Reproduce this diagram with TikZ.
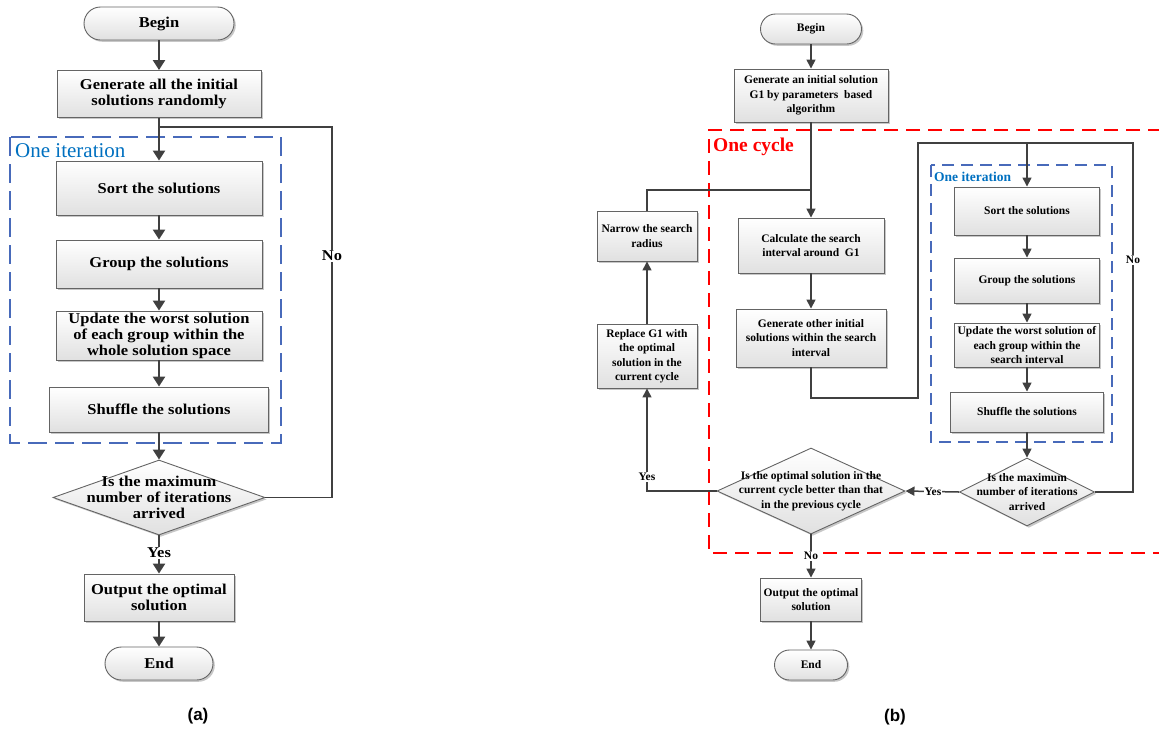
\documentclass[tikz,border=0pt]{standalone}
\usepackage{fontspec}
\setmainfont{Liberation Serif}
\newfontfamily\afont[FakeStretch=1.1]{Liberation Serif}
\newfontfamily\labfont{Liberation Sans}
\usetikzlibrary{arrows.meta,shapes.geometric,shadows}
\definecolor{boxgray}{RGB}{100,100,100}
\definecolor{arrgray}{RGB}{64,64,64}
\definecolor{dblue}{RGB}{72,106,186}
\definecolor{tblue}{RGB}{0,112,192}
\definecolor{cred}{RGB}{255,0,0}
\tikzset{
  boxfill/.style={top color=white, bottom color=black!12},
  boxshadow/.style={drop shadow={shadow xshift=1.8pt, shadow yshift=-1.8pt, opacity=0.22, fill=black}},
  fonta/.style={font=\afont\bfseries\fontsize{15}{16}\selectfont},
  fontb/.style={font=\bfseries\fontsize{11.5}{14.5}\selectfont},
  procbox/.style={draw=boxgray, line width=0.9pt, boxfill, boxshadow, inner sep=0pt, align=center},
  termbox/.style={procbox},
  decbox/.style={shape=diamond, draw=boxgray, line width=0.9pt, boxfill, boxshadow, inner sep=0pt},
  dtext/.style={align=center, inner sep=0pt},
  arra/.style={draw=arrgray, line width=2.4pt, -{Triangle[width=12pt,length=10pt]}},
  linea/.style={draw=arrgray, line width=1.8pt},
  arrb/.style={draw=arrgray, line width=1.5pt, -{Triangle[width=9pt,length=9pt]}},
  lineb/.style={draw=arrgray, line width=1.4pt},
  lbl/.style={fill=white, inner sep=1pt},
  bluedash/.style={draw=dblue, line width=2.8pt, dash pattern=on 19pt off 8pt},
  bluedashb/.style={draw=dblue, line width=2pt, dash pattern=on 12pt off 7pt},
  reddash/.style={draw=cred, line width=2.6pt, dash pattern=on 14pt off 8pt},
}
\begin{document}
\begin{tikzpicture}[x=1pt,y=-1pt]
\useasboundingbox (0,0) rectangle (1159,729);
% ---------------- (a) ----------------
\draw[bluedash] (10,137) rectangle (281,443);
\node[anchor=west, text=tblue, font=\fontsize{21}{22}\selectfont, inner sep=0pt] (itA) at (15,151) {One iteration};

\node[termbox, fonta, minimum width=150pt, minimum height=33pt, rounded corners=16.5pt] (beginA) at (159,23.5) {Begin};
\node[procbox, fonta, minimum width=204pt, minimum height=47pt] (genA) at (159,94) {Generate all the initial\\solutions randomly};
\node[procbox, fonta, minimum width=206pt, minimum height=54pt] (sortA) at (159,188) {Sort the solutions};
\node[procbox, fonta, minimum width=206pt, minimum height=48pt] (groupA) at (159,264) {Group the solutions};
\node[procbox, fonta, minimum width=206pt, minimum height=49pt] (updA) at (159,335.5) {Update the worst solution\\of each group within the\\whole solution space};
\node[procbox, fonta, minimum width=219pt, minimum height=45pt] (shufA) at (159,409.5) {Shuffle the solutions};
\node[decbox, minimum width=212pt, minimum height=75pt] (decA) at (159,497.5) {};
\node[dtext, fonta] (decAt) at (decA.center) {Is the maximum\\number of iterations\\arrived};
\node[procbox, fonta, minimum width=150pt, minimum height=47pt] (outA) at (159,597.5) {Output the optimal\\solution};
\node[termbox, fonta, minimum width=108pt, minimum height=33pt, rounded corners=16.5pt] (endA) at (159,663.5) {End};

\coordinate (loopA) at (332,127);
\draw[linea] (decA.east) -- (decA.east -| loopA) -- (loopA) -- (loopA -| genA.south);
\node[lbl, fonta] (noA) at (332,256) {No};
\draw[arra] (beginA) -- (genA);
\draw[arra] (genA) -- (sortA);
\draw[arra] (sortA) -- (groupA);
\draw[arra] (groupA) -- (updA);
\draw[arra] (updA) -- (shufA);
\draw[arra] (shufA) -- (decA);
\draw[arra] (decA) -- (outA);
\node[lbl, fonta] (yesA) at (159,553) {Yes};
\draw[arra] (outA) -- (endA);
\node[font=\labfont\bfseries\fontsize{17}{18}\selectfont] (capA) at (198,716) {(a)};

% ---------------- (b) ----------------
\draw[reddash] (1162,130) -- (709,130) -- (709,553) -- (1162,553);
\node[anchor=west, text=cred, font=\bfseries\fontsize{19.5}{20}\selectfont, inner sep=0pt] (cycB) at (713,147) {One cycle};
\draw[bluedashb] (931,165) rectangle (1112,442);
\node[anchor=west, text=tblue, font=\bfseries\fontsize{13.5}{14}\selectfont, inner sep=0pt] (itB) at (934,177) {One iteration};

\node[termbox, fontb, minimum width=101pt, minimum height=30pt, rounded corners=15pt] (beginB) at (811,29) {Begin};
\node[procbox, fontb, minimum width=154pt, minimum height=53pt] (genB) at (811,95.5) {Generate an initial solution\\G1 by parameters\ \ based\\algorithm};
\node[procbox, fontb, minimum width=146pt, minimum height=55pt] (calcB) at (811,245.5) {Calculate the search\\interval around\ \ G1};
\node[procbox, fontb, minimum width=150pt, minimum height=58pt] (othB) at (811,338) {Generate other initial\\solutions within the search\\interval};
\node[procbox, fontb, minimum width=100pt, minimum height=50pt] (narB) at (647,236) {Narrow the search\\radius};
\node[procbox, fontb, minimum width=100pt, minimum height=64pt] (replB) at (647,356) {Replace G1 with\\the optimal\\solution in the\\current cycle};
\node[procbox, fontb, minimum width=145pt, minimum height=48pt] (sortB) at (1027,211) {Sort the solutions};
\node[procbox, fontb, minimum width=145pt, minimum height=45pt] (grpB) at (1027,280.5) {Group the solutions};
\node[procbox, fontb, minimum width=145pt, minimum height=44pt] (updB) at (1027,345) {Update the worst solution of\\each group within the\\search interval};
\node[procbox, fontb, minimum width=153pt, minimum height=40pt] (shufB) at (1027,412) {Shuffle the solutions};
\node[decbox, minimum width=135pt, minimum height=68pt] (dec2B) at (1027,492) {};
\node[dtext, fontb] (dec2Bt) at (dec2B.center) {Is the maximum\\number of iterations\\arrived};
\node[decbox, minimum width=188pt, minimum height=86pt] (dec1B) at (811,491) {};
\node[dtext, fontb] (dec1Bt) at (dec1B.center) {Is the optimal solution in the\\current cycle better than that\\in the previous cycle};
\node[procbox, fontb, minimum width=101pt, minimum height=43pt] (outB) at (811,599.5) {Output the optimal\\solution};
\node[termbox, fontb, minimum width=73pt, minimum height=30pt, rounded corners=15pt] (endB) at (811,665) {End};

\coordinate (jB) at (811,190);
\coordinate (c1) at (918,398);
\coordinate (c2) at (918,143);
\coordinate (c3) at (1133,143);

\draw[arrb] (beginB) -- (genB);
\draw[arrb] (genB) -- (calcB);
\draw[lineb] (narB.north) |- (jB);
\draw[arrb] (calcB) -- (othB);
\draw[arrb] (othB.south) |- (c1) -- (c2) -| (sortB.north);
\draw[arrb] (sortB) -- (grpB);
\draw[arrb] (grpB) -- (updB);
\draw[arrb] (updB) -- (shufB);
\draw[arrb] (shufB) -- (dec2B);
\draw[lineb] (dec2B.east) -| (c3) -- (c3 -| sortB.north);
\node[lbl, fontb] (noB1) at (1133,260) {No};
\draw[arrb] (dec2B.west) -- (dec1B.east);
\node[lbl, fontb] (yesB1) at (933,492) {Yes};
\draw[arrb] (dec1B.west) -| (replB.south);
\node[lbl, fontb] (yesB2) at (647,477) {Yes};
\draw[arrb] (replB) -- (narB);
\draw[arrb] (dec1B.south) -- (outB.north);
\node[lbl, fontb, inner xsep=3pt] (noB2) at (811,556) {No};
\draw[arrb] (outB) -- (endB);
\node[font=\labfont\bfseries\fontsize{17}{18}\selectfont] (capB) at (895,717) {(b)};
\end{tikzpicture}
\end{document}
